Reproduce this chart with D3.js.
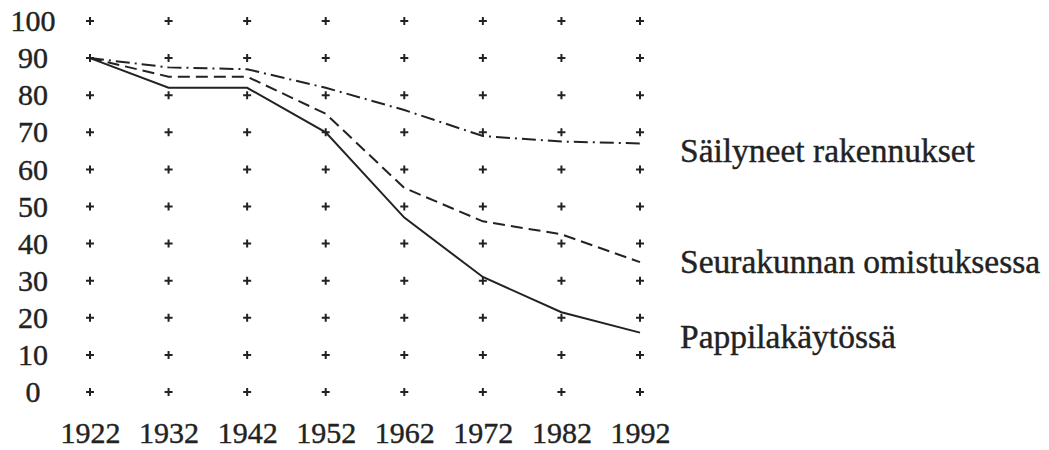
<!DOCTYPE html>
<html>
<head>
<meta charset="utf-8">
<script src="https://cdn.jsdelivr.net/npm/d3@7"></script>
<style>
  body { margin: 0; background: #fff; }
</style>
</head>
<body>
<svg></svg>
<script>
var years = [1922, 1932, 1942, 1952, 1962, 1972, 1982, 1992];
var yTicks = [0, 10, 20, 30, 40, 50, 60, 70, 80, 90, 100];

var seriesNames = ["Säilyneet rakennukset", "Seurakunnan omistuksessa", "Pappilakäytössä"];
var sailyneet   = [90, 87.5, 87, 82, 76, 69, 67.5, 67];
var seurakunta  = [90, 85, 85, 75, 55, 46, 42.5, 35];
var pappila     = [90, 82, 82, 70, 47, 31, 21.5, 16];

var serif = "'Liberation Serif', 'Times New Roman', Times, serif";
var ink = "#222";

var drawGraph = function() {
  var screen = {width: 1049, height: 450};

  var xScale = d3.scaleLinear()
                 .domain([1922, 1992])
                 .range([90, 640]);

  var yScale = d3.scaleLinear()
                 .domain([0, 100])
                 .range([392, 21]);

  var svg = d3.select("svg")
              .attr("width", screen.width)
              .attr("height", screen.height);

  // grid of little plus signs
  var crosses = [];
  years.forEach(function(yr) {
    yTicks.forEach(function(v) { crosses.push({x: yr, y: v}); });
  });

  svg.append("g")
     .selectAll("path")
     .data(crosses)
     .enter()
     .append("path")
     .attr("transform", function(d) { return "translate(" + xScale(d.x) + "," + yScale(d.y) + ")"; })
     .attr("d", "M-4,0H4M0,-4V4")
     .attr("stroke", ink)
     .attr("stroke-width", 2);

  // axes (labels only)
  var yAxis = svg.append("g")
                 .attr("transform", "translate(90,0)")
                 .call(d3.axisLeft(yScale).tickValues(yTicks).tickSize(0).tickFormat(d3.format("d")));
  yAxis.select(".domain").remove();
  yAxis.attr("font-family", serif).attr("font-size", 30);
  yAxis.selectAll("text")
       .attr("x", -57)
       .attr("text-anchor", "middle")
       .attr("fill", ink)
       .attr("stroke", ink)
       .attr("stroke-width", 0.4)
       .style("font-family", serif);

  var xAxis = svg.append("g")
                 .attr("transform", "translate(0,392)")
                 .call(d3.axisBottom(xScale).tickValues(years).tickSize(0).tickPadding(30).tickFormat(d3.format("d")));
  xAxis.select(".domain").remove();
  xAxis.attr("font-family", serif).attr("font-size", 30);
  xAxis.selectAll("text")
       .attr("fill", ink)
       .attr("stroke", ink)
       .attr("stroke-width", 0.4)
       .style("font-family", serif);

  // lines
  var series = [
    {name: seriesNames[0], values: sailyneet,  dash: "14,5,2,5", dy: 19},
    {name: seriesNames[1], values: seurakunta, dash: "12,6",     dy: 11},
    {name: seriesNames[2], values: pappila,    dash: null,       dy: 15.5}
  ];

  var line = d3.line()
               .x(function(d, i) { return xScale(years[i]); })
               .y(function(d) { return yScale(d); });

  svg.append("g")
     .selectAll("path")
     .data(series)
     .enter()
     .append("path")
     .attr("d", function(d) { return line(d.values); })
     .attr("fill", "none")
     .attr("stroke", ink)
     .attr("stroke-width", 2)
     .attr("stroke-dasharray", function(d) { return d.dash; });

  // labels at line ends
  svg.append("g")
     .selectAll("text")
     .data(series)
     .enter()
     .append("text")
     .attr("x", 680)
     .attr("y", function(d) { return yScale(d.values[d.values.length - 1]) + d.dy; })
     .attr("font-size", 33.5)
     .attr("fill", ink)
     .attr("stroke", ink)
     .attr("stroke-width", 0.4)
     .style("font-family", serif)
     .text(function(d) { return d.name; });
};

drawGraph();
</script>
</body>
</html>
